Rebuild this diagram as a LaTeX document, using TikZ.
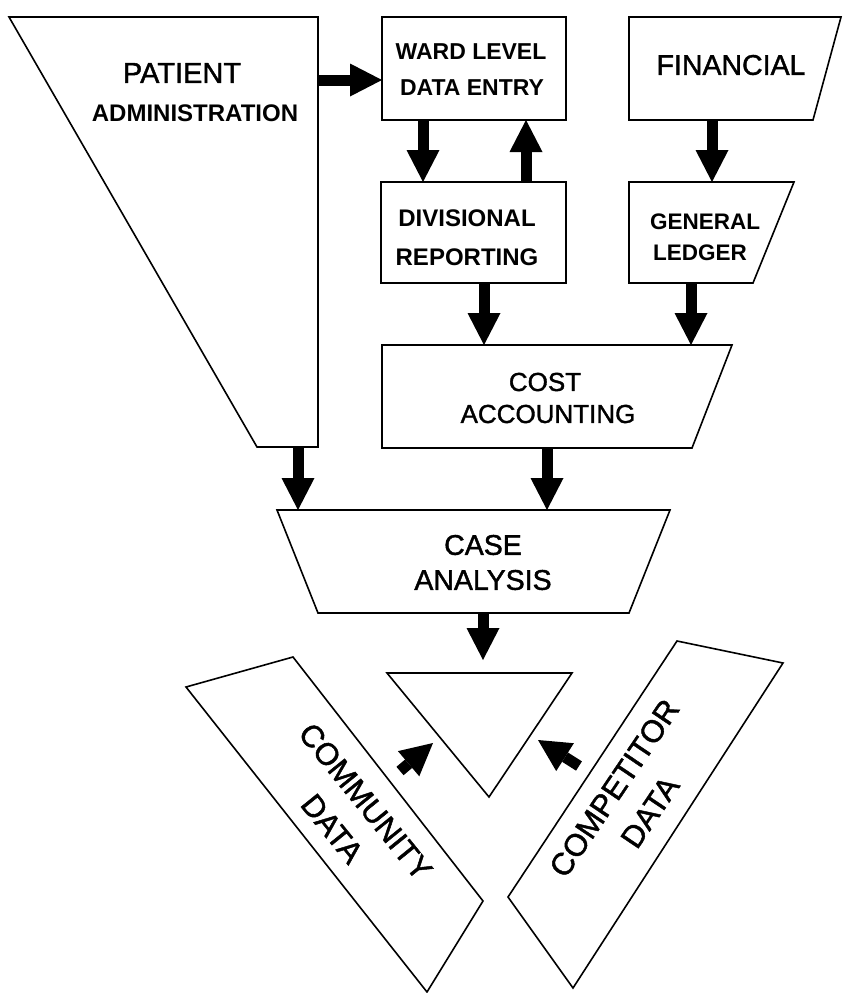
\documentclass[tikz,border=0pt]{standalone}
\usepackage{fontspec}
\setmainfont{Liberation Sans}
\newfontface\medfont{Liberation Sans}[FakeBold=1.4]
\usetikzlibrary{arrows.meta}
\begin{document}
\begin{tikzpicture}[x=1pt,y=-1pt,
  box/.style={draw=black,line width=1.6pt,line join=miter,fill=white},
  flow/.style={line width=11pt,-{Triangle[width=33pt,length=32pt,line width=0pt]}},
  lab/.style={inner sep=0pt,text=black,anchor=center},
  big/.style={lab,font=\medfont\fontsize{28.5}{34}\selectfont},
  mid/.style={lab,font=\medfont\fontsize{26}{31}\selectfont},
  sml/.style={lab,font=\bfseries\fontsize{23}{28}\selectfont},
  rot/.style={lab,align=center,font=\medfont\fontsize{31}{43}\selectfont},
]
\useasboundingbox (0,0) rectangle (843,993);

% shapes
\draw[box] (9,17) -- (318,17) -- (318,447) -- (257,447) -- cycle;
\draw[box] (382,17) rectangle (566,120);
\draw[box] (629,17) -- (841,17) -- (813,120) -- (629,120) -- cycle;
\draw[box] (381,182) rectangle (566,283);
\draw[box] (629,182) -- (794,182) -- (753,283) -- (629,283) -- cycle;
\draw[box] (382,345) -- (732,345) -- (692,448) -- (382,448) -- cycle;
\draw[box] (277,510) -- (670,510) -- (629,613) -- (318,613) -- cycle;
\draw[box] (387,673) -- (572,673) -- (489,797) -- cycle;
\draw[box] (186,687) -- (293,657) -- (483,901) -- (427,992) -- cycle;
\draw[box] (677,641) -- (783,663) -- (573,988) -- (508,897) -- cycle;

% labels
\node[lab,font=\medfont\fontsize{29}{34}\selectfont] (patA) at (182,73) {PATIENT};
\node[lab,font=\bfseries\fontsize{24}{29}\selectfont] (patB) at (195,113) {ADMINISTRATION};
\node[sml] (wardA) at (471,52) {WARD LEVEL};
\node[sml] (wardB) at (472,88) {DATA ENTRY};
\node[big] (fin) at (731,65) {FINANCIAL};
\node[sml,font=\bfseries\fontsize{24}{29}\selectfont] (divA) at (467,218) {DIVISIONAL};
\node[sml,font=\bfseries\fontsize{24}{29}\selectfont] (divB) at (467,257) {REPORTING};
\node[sml,font=\bfseries\fontsize{22.5}{27}\selectfont] (ledA) at (705,222) {GENERAL};
\node[sml,font=\bfseries\fontsize{22.5}{27}\selectfont] (ledB) at (700,253) {LEDGER};
\node[mid] (costA) at (545,382) {COST};
\node[mid] (costB) at (548,414) {ACCOUNTING};
\node[big] (caseA) at (483,545) {CASE};
\node[big] (caseB) at (483,580) {ANALYSIS};
\node[rot,rotate=-51] (com) at (349,815) {COMMUNITY\\DATA};
\node[rot,rotate=56] (cmp) at (632,800) {COMPETITOR\\DATA};

% connector end points
\coordinate (patR) at (319,80);   \coordinate (wardL) at (382,80);
\coordinate (wardB1) at (423,120); \coordinate (divT1) at (423,182);
\coordinate (divT2) at (526,182);  \coordinate (wardB2) at (526,120);
\coordinate (finB) at (712,120);   \coordinate (ledT) at (712,182);
\coordinate (divB0) at (484,283);  \coordinate (costT1) at (484,345);
\coordinate (ledB0) at (691,283);  \coordinate (costT2) at (691,345);
\coordinate (patB0) at (298,447);  \coordinate (caseT1) at (298,510);
\coordinate (costB0) at (547,448); \coordinate (caseT2) at (547,510);
\coordinate (caseB0) at (483,613); \coordinate (triT) at (483,660);
\coordinate (comT) at (400,771);   \coordinate (triL) at (433,743);
\coordinate (cmpT) at (579,766);   \coordinate (triR) at (538,740);

% connectors
\draw[flow] (patR) -- (wardL);
\draw[flow] (wardB1) -- (divT1);
\draw[flow] (divT2) -- (wardB2);
\draw[flow] (finB) -- (ledT);
\draw[flow] (divB0) -- (costT1);
\draw[flow] (ledB0) -- (costT2);
\draw[flow] (patB0) -- (caseT1);
\draw[flow] (costB0) -- (caseT2);
\draw[flow] (caseB0) -- (triT);
\draw[flow] (comT) -- (triL);
\draw[flow] (cmpT) -- (triR);
\end{tikzpicture}
\end{document}
